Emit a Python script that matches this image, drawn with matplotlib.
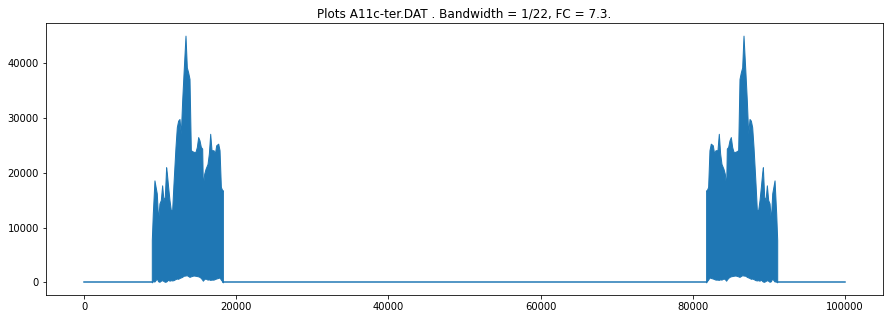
import numpy as np
import matplotlib
matplotlib.use("Agg")
import matplotlib.pyplot as plt

# signal length and the title of the run
n_samples = 100000
title = "Plots A11c-ter.DAT . Bandwidth = 1/22, FC = 7.3."

# upper envelope of the first band (sample index, amplitude)
band_x = [8904, 9035, 9254, 9561, 9737, 9912, 10088, 10263, 10439, 10614,
          10789, 10877, 11053, 11228, 11404, 11579, 11754, 12018, 12193, 12368,
          12544, 12719, 12895, 13070, 13333, 13509, 13684, 13860, 14035, 14386,
          14649, 14825, 15000, 15175, 15351, 15526, 15614, 15789, 15965, 16228,
          16404, 16579, 16754, 17018, 17193, 17368, 17632, 17807, 17982, 18158,
          18246]
band_hi = [7700, 12500, 18600, 16200, 11300, 14400, 15000, 17700, 15000, 15600,
           21000, 20000, 17400, 15000, 13200, 13200, 18000, 24700, 28300, 29500,
           29800, 27100, 33150, 38000, 45000, 39200, 38300, 37100, 24100, 23800,
           23800, 24700, 26500, 25900, 24700, 24400, 17400, 19800, 20700, 21600,
           23500, 27100, 24100, 24100, 23500, 25000, 25300, 24100, 17400, 16800,
           16800]
# lower envelope of the same band (the white notches at the bottom)
band_lo = [0, 200, 150, 700, 200, 100, 300, 400, 250, 100,
           150, 250, 500, 300, 400, 350, 400, 600, 700, 650,
           800, 900, 1000, 1200, 1250, 1300, 1150, 1000, 1100, 1250,
           1200, 1150, 1100, 1000, 800, 500, 300, 600, 700, 500,
           550, 450, 500, 500, 600, 700, 800, 900, 500, 200,
           0]

band_x = np.array(band_x)
band_hi = np.array(band_hi)
band_lo = np.array(band_lo)

# the spectrum is mirrored around n/2
mirror_x = n_samples - band_x[::-1]
mirror_hi = band_hi[::-1]
mirror_lo = band_lo[::-1]

fig = plt.figure(figsize=(893 / 72, 319 / 72), dpi=72)
fig.patch.set_facecolor("white")
ax = fig.add_axes([46 / 893, (319 - 294.7) / 319, (883 - 46) / 893, (294.7 - 23.3) / 319])

c = "#1f77b4"
# flat parts of the signal
ax.plot([0, band_x[0]], [0, 0], color=c, lw=1.5)
ax.plot([band_x[-1], mirror_x[0]], [0, 0], color=c, lw=1.5)
ax.plot([mirror_x[-1], n_samples - 1], [0, 0], color=c, lw=1.5)

# dense parts, drawn as filled envelopes
for xs, lo, hi in [(band_x, band_lo, band_hi), (mirror_x, mirror_lo, mirror_hi)]:
    ax.fill_between(xs, lo, hi, color=c, lw=1.0, edgecolor=c)

ax.set_title(title, fontsize=12)
ax.set_xticks([0, 20000, 40000, 60000, 80000, 100000])
ax.set_yticks([0, 10000, 20000, 30000, 40000])
ax.tick_params(labelsize=10)

fig.savefig("out.png", dpi=72, facecolor="white")
